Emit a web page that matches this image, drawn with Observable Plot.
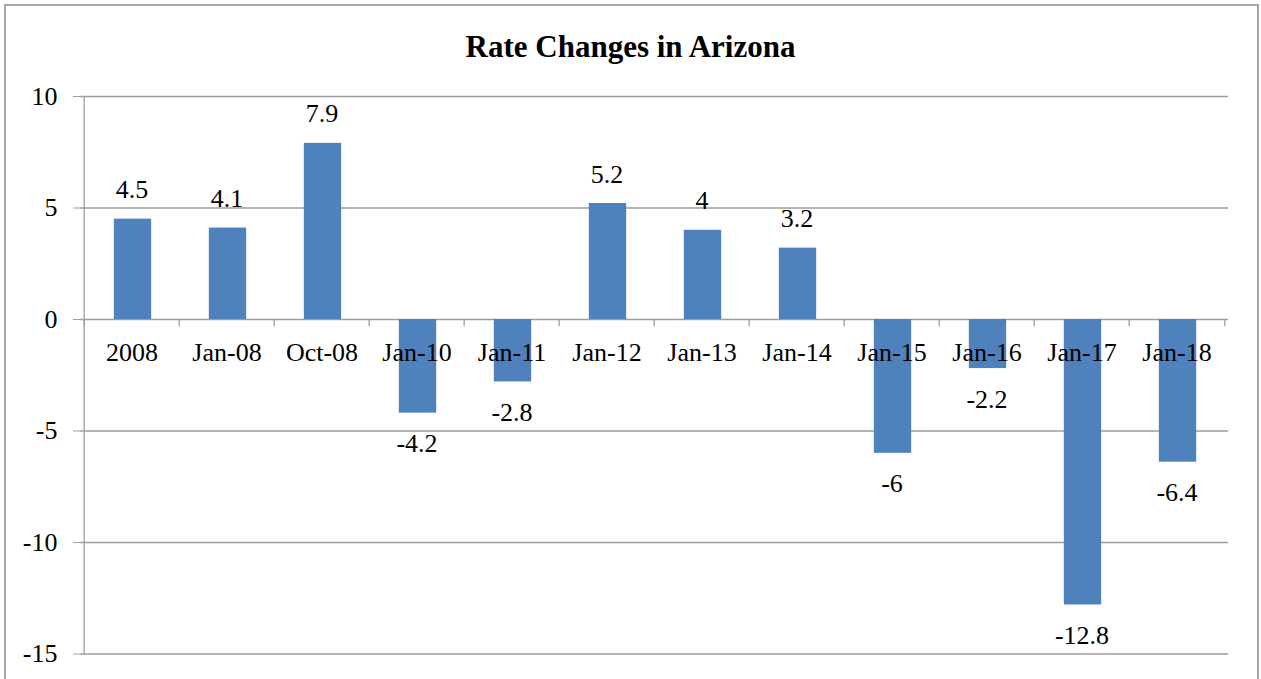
<!DOCTYPE html>
<html>
<head>
<meta charset="utf-8">
<script src="https://cdn.jsdelivr.net/npm/d3@7"></script>
<script src="https://cdn.jsdelivr.net/npm/@observablehq/plot@0.6"></script>
<style>
  body { margin: 0; background: #fff; }
  #wrap { position: relative; width: 1261px; height: 679px; overflow: hidden; background: #fff; }
  #chart { position: absolute; left: 0; top: 0; }
  #chart svg, #chart svg text { font-family: "Liberation Serif", "Times New Roman", serif !important; }
  #border { position: absolute; left: 4px; top: 4px; width: 1255px; height: 720px; border: 2px solid #a6a6a6; box-sizing: border-box; pointer-events: none; }
</style>
</head>
<body>
<div id="wrap">
  <div id="chart"></div>
  <div id="border"></div>
</div>
<script>
const title = "Rate Changes in Arizona";
const categories = ["2008", "Jan-08", "Oct-08", "Jan-10", "Jan-11", "Jan-12", "Jan-13", "Jan-14", "Jan-15", "Jan-16", "Jan-17", "Jan-18"];
const values = [4.5, 4.1, 7.9, -4.2, -2.8, 5.2, 4, 3.2, -6, -2.2, -12.8, -6.4];
const yTicks = [10, 5, 0, -5, -10, -15];

const rows = categories.map((c, i) => ({cat: c, value: values[i]}));

const W = 1261, H = 679;
const mL = 80, mR = 33, mT = 96, mB = 25.5;
const step = (W - mL - mR) / categories.length;
const barW = 38;
const inset = (step - barW) / 2;
const gridColor = "#9d9d9d";
const font = '"Liberation Serif", "Times New Roman", serif';

const chart = Plot.plot({
  width: W,
  height: H,
  marginLeft: mL,
  marginRight: mR,
  marginTop: mT,
  marginBottom: mB,
  style: {fontFamily: font, background: "#fff", color: "#000", overflow: "visible"},
  x: {domain: categories, padding: 0, axis: null},
  y: {domain: [-15, 10], axis: null},
  marks: [
    Plot.ruleY(yTicks, {stroke: gridColor, strokeWidth: 1.3}),
    Plot.axisY(yTicks, {tickSize: 7, tickPadding: 16, fontSize: 26, fontFamily: font, stroke: gridColor, fill: "#000", label: null, tickFormat: d => String(d)}),
    Plot.ruleX([categories[0]], {x: d => d, dx: -step / 2, stroke: gridColor, strokeWidth: 1.3}),
    Plot.ruleX(categories, {x: d => d, y1: 0, y2: -0.32, dx: -step / 2, stroke: gridColor, strokeWidth: 1.3}),
    Plot.ruleX([categories[categories.length - 1]], {x: d => d, y1: 0, y2: -0.32, dx: step / 2, stroke: gridColor, strokeWidth: 1.3}),
    Plot.barY(rows, {x: "cat", y: "value", fill: "#4f81bd", insetLeft: inset + 1, insetRight: inset - 1}),
    Plot.text(rows, {x: "cat", y: () => 0, text: "cat", lineAnchor: "bottom", dy: 41, fontSize: 26, fontFamily: font, fill: "#000"}),
    Plot.text(rows.filter(d => d.value >= 0), {x: "cat", y: "value", text: d => String(d.value), lineAnchor: "bottom", dy: -21, fontSize: 26, fontFamily: font, fill: "#000"}),
    Plot.text(rows.filter(d => d.value < 0), {x: "cat", y: "value", text: d => String(d.value), lineAnchor: "bottom", dy: 39, fontSize: 26, fontFamily: font, fill: "#000"}),
    Plot.text([title], {text: d => d, frameAnchor: "top", dx: -24, dy: -40, lineAnchor: "bottom", fontSize: 31, fontWeight: "bold", fontFamily: font, fill: "#000"})
  ]
});
document.getElementById("chart").appendChild(chart);
</script>
</body>
</html>
